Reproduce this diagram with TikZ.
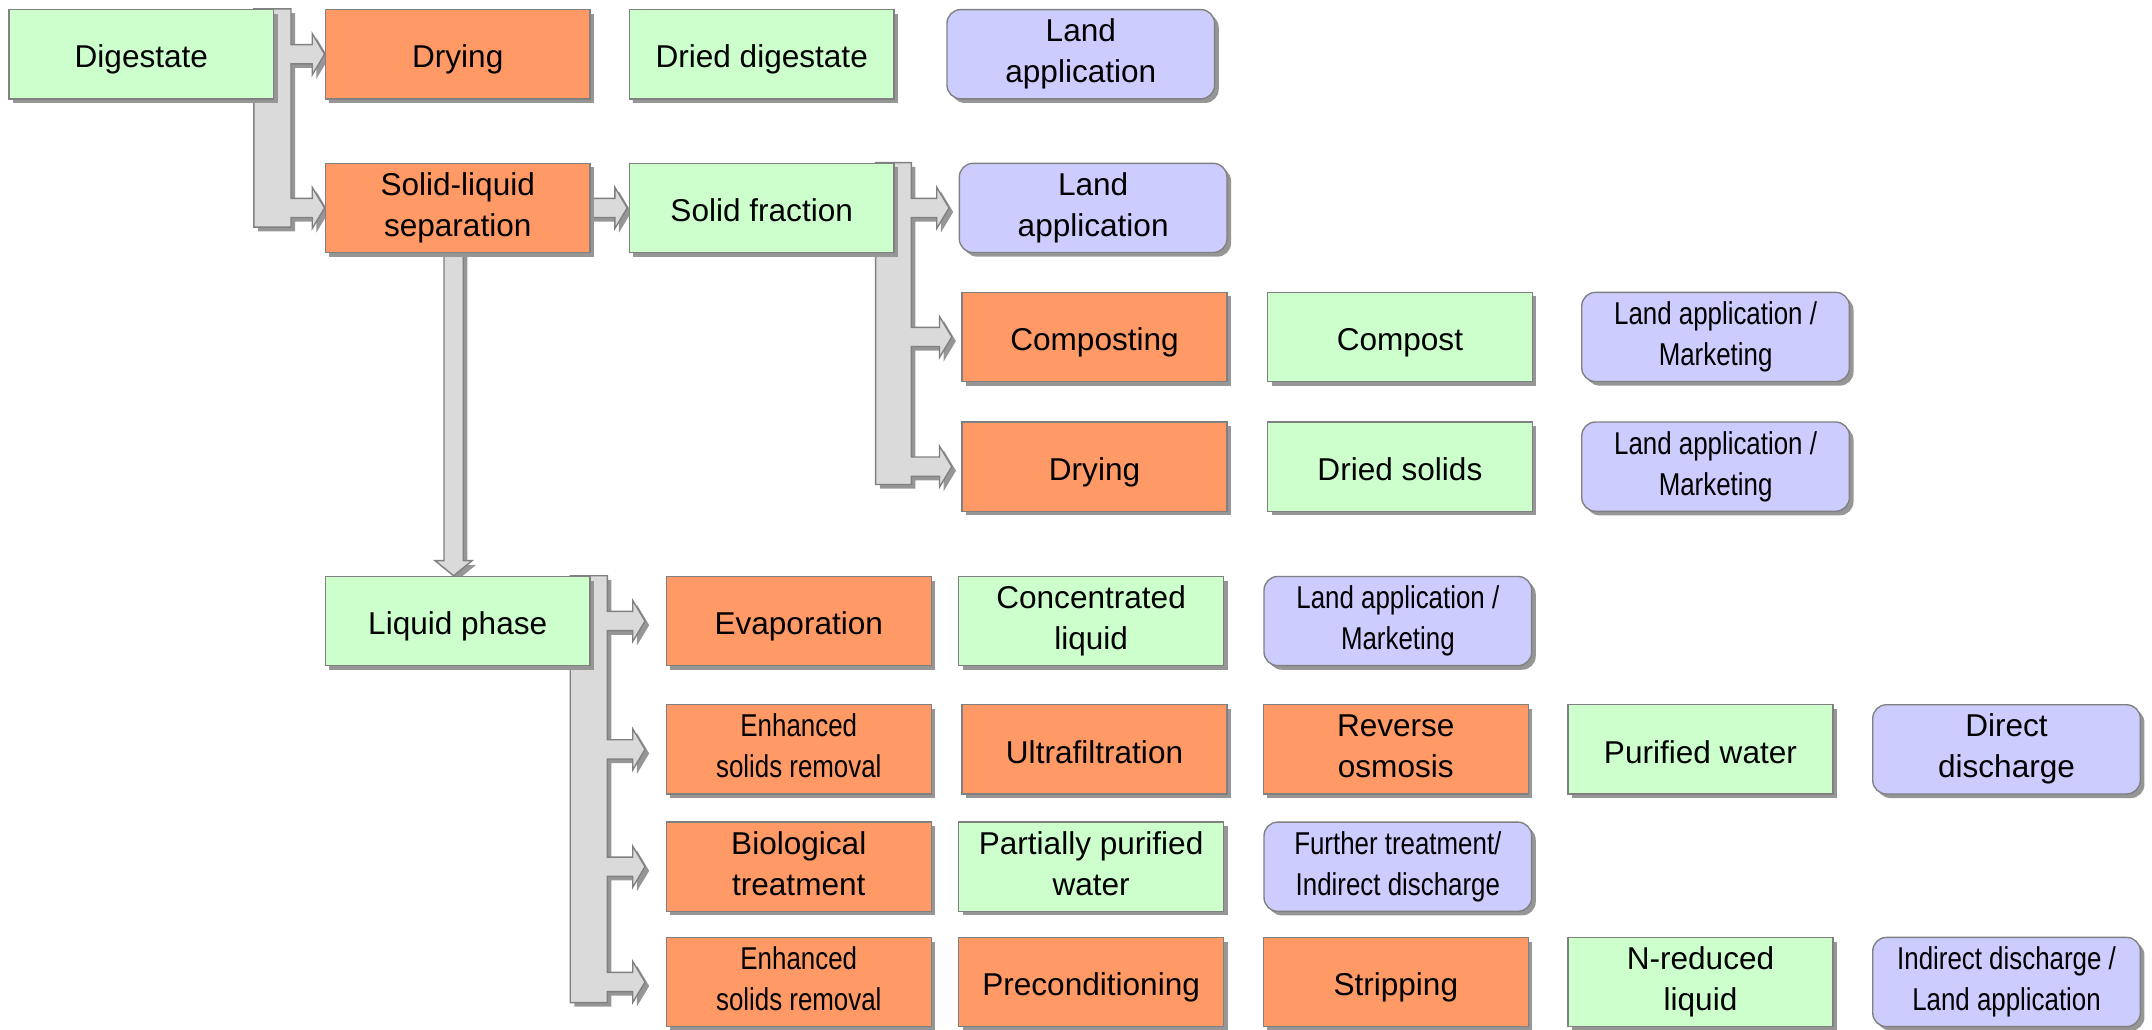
\documentclass[tikz,border=0pt]{standalone}
\usepackage{fontspec}
\setmainfont{Liberation Sans}
\newfontfamily\narrowsans[FakeStretch=0.82]{Liberation Sans}
\usetikzlibrary{calc,shadows}
\definecolor{prodgreen}{RGB}{204,255,204}
\definecolor{procorange}{RGB}{255,153,102}
\definecolor{enduseblue}{RGB}{204,204,255}
\definecolor{flowgray}{RGB}{218,218,218}
\definecolor{edgegray}{RGB}{128,128,128}
\definecolor{shadowgray}{RGB}{150,150,150}
\pgfdeclarelayer{background}
\pgfsetlayers{background,main}

% fixed line box, so that text sits the same in every box
\newcommand{\boxstrut}{\rule[-5pt]{0pt}{30pt}}

% one arm of a branch bar: from the bar of #1 to box #2, tip #3 short of it
\newcommand{\brancharm}[3]{%
  -- ($(#1.east |- #2.west)+(12,-7)$) -- ($(#2.west)+(-#3-9,-7)$)
  -- ($(#2.west)+(-#3-9,-15)$) -- ($(#2.west)+(-#3,0)$)
  -- ($(#2.west)+(-#3-9,15)$) -- ($(#2.west)+(-#3-9,7)$)
  -- ($(#1.east |- #2.west)+(12,7)$)}

\tikzset{
  basebox/.style={draw=edgegray, line width=1pt, minimum width=193pt,
    minimum height=65pt, align=center, inner sep=2pt,
    font=\fontsize{23}{30}\selectfont,
    execute at begin node=\boxstrut, execute at end node=\boxstrut,
    drop shadow={shadow xshift=3pt, shadow yshift=-3pt, opacity=1, fill=shadowgray}},
  prodbox/.style={basebox, fill=prodgreen},
  procbox/.style={basebox, fill=procorange},
  endbox/.style={basebox, fill=enduseblue, rounded corners=10pt, minimum width=195pt},
  narrow/.style={font=\narrowsans\fontsize{23}{30}\selectfont},
  flowarrow/.style={fill=flowgray, draw=edgegray, line width=1pt,
    drop shadow={shadow xshift=3pt, shadow yshift=-3pt, opacity=1, fill=shadowgray}}
}

\begin{document}
\begin{tikzpicture}[x=1pt, y=-1pt]
\useasboundingbox (0,0) rectangle (1568,749.76);

% solid line
\node[prodbox] (dig) at (103,39.5) {Digestate};
\node[procbox] (dry1) at (333.5,39.5) {Drying};
\node[prodbox] (ddig) at (555,39.5) {Dried digestate};
\node[endbox] (land1) at (787.5,39.5) {Land\\application};
\node[procbox] (sls) at (333.5,151.5) {Solid-liquid\\separation};
\node[prodbox] (sfrac) at (555,151.5) {Solid fraction};
\node[endbox] (land2) at (796.5,151.5) {Land\\application};
\node[procbox] (comp) at (797.5,245.5) {Composting};
\node[prodbox] (compost) at (1020,245.5) {Compost};
\node[endbox,narrow] (mark1) at (1250,245.5) {Land application /\\Marketing};
\node[procbox] (dry2) at (797.5,340) {Drying};
\node[prodbox] (dsol) at (1020,340) {Dried solids};
\node[endbox,narrow] (mark2) at (1250,340) {Land application /\\Marketing};

% liquid line
\node[prodbox] (liq) at (333.5,452.5) {Liquid phase};
\node[procbox] (evap) at (582,452.5) {Evaporation};
\node[prodbox] (conc) at (795,452.5) {Concentrated\\liquid};
\node[endbox,narrow] (mark3) at (1018.5,452.5) {Land application /\\Marketing};
\node[procbox,narrow] (esr1) at (582,546) {Enhanced\\solids removal};
\node[procbox] (uf) at (797.5,546) {Ultrafiltration};
\node[procbox] (ro) at (1017,546) {Reverse\\osmosis};
\node[prodbox] (pure) at (1239,546) {Purified water};
\node[endbox] (direct) at (1462,546) {Direct\\discharge};
\node[procbox] (bio) at (582,631.5) {Biological\\treatment};
\node[prodbox] (ppw) at (795,631.5) {Partially purified\\water};
\node[endbox,narrow] (further) at (1018.5,631.5) {Further treatment/\\Indirect discharge};
\node[procbox,narrow] (esr2) at (582,715.5) {Enhanced\\solids removal};
\node[procbox] (precon) at (795,715.5) {Preconditioning};
\node[procbox] (strip) at (1017,715.5) {Stripping};
\node[prodbox] (nred) at (1239,715.5) {N-reduced\\liquid};
\node[endbox,narrow] (indirect) at (1462,715.5) {Indirect discharge /\\Land application};

\begin{pgfonlayer}{background}
  % digestate branches
  \draw[flowarrow] ($(dig.north east)+(-15,0)$) -- ($(dig.north east)+(12,0)$)
    \brancharm{dig}{dry1}{0} \brancharm{dig}{sls}{0}
    -- ($(dig.east |- sls.west)+(12,14)$) -- ($(dig.east |- sls.west)+(-15,14)$) -- cycle;
  % separation outputs
  \draw[flowarrow] ($(sls.east)+(-2,-7)$) -- ($(sfrac.west)+(-10,-7)$)
    -- ($(sfrac.west)+(-10,-15)$) -- ($(sfrac.west)+(-1,0)$)
    -- ($(sfrac.west)+(-10,15)$) -- ($(sfrac.west)+(-10,7)$)
    -- ($(sls.east)+(-2,7)$) -- cycle;
  \draw[flowarrow] ($(sls.south)+(-10,-2)$) -- ($(sls.south)+(4,-2)$)
    -- ($(liq.north)+(4,-11)$) -- ($(liq.north)+(10.5,-11)$)
    -- ($(liq.north)+(-3,0)$) -- ($(liq.north)+(-16.5,-11)$)
    -- ($(liq.north)+(-10,-11)$) -- cycle;
  % solid fraction branches
  \draw[flowarrow] ($(sfrac.north east)+(-14,0)$) -- ($(sfrac.north east)+(12,0)$)
    \brancharm{sfrac}{land2}{7} \brancharm{sfrac}{comp}{7} \brancharm{sfrac}{dry2}{7}
    -- ($(sfrac.east |- dry2.west)+(12,13)$) -- ($(sfrac.east |- dry2.west)+(-14,13)$) -- cycle;
  % liquid phase branches
  \draw[flowarrow] ($(liq.north east)+(-15,0)$) -- ($(liq.north east)+(12,0)$)
    \brancharm{liq}{evap}{15} \brancharm{liq}{esr1}{15}
    \brancharm{liq}{bio}{15} \brancharm{liq}{esr2}{15}
    -- ($(liq.east |- esr2.west)+(12,15)$) -- ($(liq.east |- esr2.west)+(-15,15)$) -- cycle;
\end{pgfonlayer}
\end{tikzpicture}
\end{document}
